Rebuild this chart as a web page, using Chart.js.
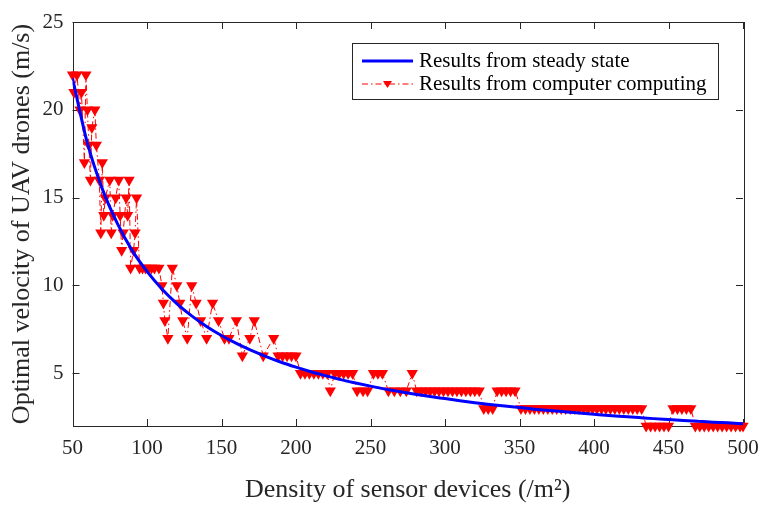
<!DOCTYPE html>
<html>
<head>
<meta charset="utf-8">
<script src="https://cdn.jsdelivr.net/npm/chart.js@4.4.1/dist/chart.umd.min.js"></script>
<style>
  body { margin: 0; background: #fff; }
  canvas { display: block; }
</style>
</head>
<body>
<canvas id="myChart" width="769" height="509"></canvas>
<script>
// steady state curve
const steadyDensity = [50, 60, 70, 80, 90, 100, 110, 120, 130, 140, 150, 160, 170, 180, 190,
  200, 210, 220, 230, 240, 250, 260, 270, 280, 290, 300, 310, 320, 330, 340, 350,
  360, 370, 380, 390, 400, 410, 420, 430, 440, 450, 460, 470, 480, 490, 500];
const steadyVelocity = [21.8, 18.1, 15.5, 13.55, 12.0, 10.8, 9.8, 8.97, 8.27, 7.67, 7.15, 6.7, 6.3, 5.95, 5.63,
  5.35, 5.09, 4.86, 4.64, 4.45, 4.27, 4.1, 3.95, 3.81, 3.68, 3.56, 3.44, 3.33, 3.23, 3.14, 3.05,
  2.96, 2.88, 2.81, 2.74, 2.67, 2.6, 2.54, 2.48, 2.42, 2.37, 2.32, 2.27, 2.22, 2.18, 2.13];

// computer computing results
const computeDensity = [
  50, 51, 53, 55, 56, 58, 59, 60, 61, 62,
  63, 65, 66, 68, 69, 70, 71, 72, 75, 76,
  77, 79, 81, 82, 83, 84, 86, 87, 88, 89,
  91, 92, 93, 95, 97, 99, 101, 103, 105, 108,
  110, 111, 112, 114, 117, 120, 122, 124, 127, 130,
  133, 136, 140, 144, 148, 152, 155, 160, 164, 169,
  172, 178, 185, 188, 191, 194, 197, 200, 203, 206,
  209, 212, 215, 218, 221, 223, 226, 229, 232, 235,
  238, 241, 245, 248, 252, 255, 258, 262, 266, 270,
  274, 278, 281, 284, 287, 290, 293, 296, 299, 302,
  305, 308, 311, 314, 317, 320, 323, 326, 329, 332,
  335, 338, 341, 344, 347, 351, 354, 357, 360, 363,
  366, 369, 372, 375, 378, 381, 384, 387, 390, 393,
  396, 399, 402, 405, 408, 411, 414, 417, 420, 423,
  426, 429, 432, 435, 438, 441, 444, 447, 450, 453,
  456, 459, 462, 465, 468, 471, 474, 477, 480, 483,
  486, 489, 492, 495, 498, 500
];
const computeVelocity = [
  22, 21, 22, 20, 21, 17, 22, 20, 18, 16,
  19, 20, 18, 16, 13, 17, 14, 15, 16, 13,
  14, 15, 16, 14, 12, 13, 15, 14, 16, 11,
  12, 13, 15, 11, 11, 11, 11, 11, 11, 11,
  10, 9, 8, 7, 11, 10, 9, 8, 7, 10,
  9, 8, 7, 9, 8, 7, 7, 8, 6, 7,
  8, 6, 7, 6, 6, 6, 6, 6, 5, 5,
  5, 5, 5, 5, 5, 4, 5, 5, 5, 5,
  5, 4, 4, 4, 5, 5, 5, 4, 4, 4,
  4, 5, 4, 4, 4, 4, 4, 4, 4, 4,
  4, 4, 4, 4, 4, 4, 4, 3, 3, 3,
  4, 4, 4, 4, 4, 3, 3, 3, 3, 3,
  3, 3, 3, 3, 3, 3, 3, 3, 3, 3,
  3, 3, 3, 3, 3, 3, 3, 3, 3, 3,
  3, 3, 3, 2, 2, 2, 2, 2, 2, 3,
  3, 3, 3, 3, 2, 2, 2, 2, 2, 2,
  2, 2, 2, 2, 2, 2
];

const yTicks = [5, 10, 15, 20, 25];
const seriesNames = ['Results from steady state', 'Results from computer computing'];

const serif = '"Liberation Serif", "Times New Roman", serif';
const axisColor = '#262626';

// matlab style box with inward ticks
const frame = {
  id: 'frame',
  beforeDatasetsDraw(chart) {
    const { ctx, chartArea: a, scales } = chart;
    ctx.save();
    ctx.strokeStyle = axisColor;
    ctx.lineWidth = 1;
    ctx.strokeRect(Math.round(a.left) + 0.5, Math.round(a.top) + 0.5,
      Math.round(a.right - a.left), Math.round(a.bottom - a.top));
    ctx.beginPath();
    scales.x.ticks.forEach(t => {
      const px = Math.round(scales.x.getPixelForValue(t.value)) + 0.5;
      ctx.moveTo(px, a.bottom); ctx.lineTo(px, a.bottom - 7);
      ctx.moveTo(px, a.top); ctx.lineTo(px, a.top + 7);
    });
    scales.y.ticks.forEach(t => {
      const py = Math.round(scales.y.getPixelForValue(t.value)) + 0.5;
      ctx.moveTo(a.left, py); ctx.lineTo(a.left + 7, py);
      ctx.moveTo(a.right, py); ctx.lineTo(a.right - 7, py);
    });
    ctx.stroke();
    ctx.restore();
  }
};

const legendBox = {
  id: 'legendBox',
  afterDraw(chart) {
    const ctx = chart.ctx;
    const x0 = 352, y0 = 43, w = 366, h = 56;
    ctx.save();
    ctx.fillStyle = '#fff';
    ctx.fillRect(x0, y0, w, h);
    ctx.strokeStyle = axisColor;
    ctx.lineWidth = 1;
    ctx.strokeRect(x0 + 0.5, y0 + 0.5, w, h);

    // steady state entry
    ctx.strokeStyle = '#0000ff';
    ctx.lineWidth = 3;
    ctx.beginPath();
    ctx.moveTo(362, 61); ctx.lineTo(413, 61);
    ctx.stroke();

    // computing entry
    ctx.strokeStyle = '#ff0000';
    ctx.lineWidth = 1;
    ctx.setLineDash([6, 3, 1.5, 3]);
    ctx.beginPath();
    ctx.moveTo(362, 84); ctx.lineTo(413, 84);
    ctx.stroke();
    ctx.setLineDash([]);
    ctx.fillStyle = '#ff0000';
    ctx.beginPath();
    ctx.moveTo(383, 81); ctx.lineTo(392, 81); ctx.lineTo(387.5, 88);
    ctx.closePath();
    ctx.fill();

    ctx.fillStyle = '#000';
    ctx.font = '21px ' + serif;
    ctx.textBaseline = 'middle';
    ctx.fillText(seriesNames[0], 419, 61);
    ctx.fillText(seriesNames[1], 419, 84);
    ctx.restore();
  }
};

const ctx = document.getElementById('myChart').getContext('2d');
const myChart = new Chart(ctx, {
  type: 'line',
  data: {
    datasets: [
      {
        label: seriesNames[0],
        data: steadyDensity.map((x, i) => ({ x: x, y: steadyVelocity[i] })),
        borderColor: '#0000ff',
        borderWidth: 3,
        pointRadius: 0,
        cubicInterpolationMode: 'monotone',
      },
      {
        label: seriesNames[1],
        data: computeDensity.map((x, i) => ({ x: x, y: computeVelocity[i] })),
        borderColor: '#ff0000',
        backgroundColor: '#ff0000',
        borderWidth: 1,
        borderDash: [6, 3, 1.5, 3],
        pointStyle: 'triangle',
        rotation: 180,
        pointRadius: 6.5,
        pointBorderWidth: 0,
        clip: false,
      },
    ],
  },
  options: {
    responsive: false,
    animation: false,
    devicePixelRatio: 1,
    layout: {
      padding: { left: 0, right: 26, top: 22, bottom: 0 },
    },
    plugins: {
      legend: { display: false },
      tooltip: { enabled: false },
    },
    scales: {
      x: {
        type: 'linear',
        min: 50,
        max: 500,
        grid: { display: false, drawTicks: false },
        border: { display: false },
        ticks: {
          stepSize: 50,
          padding: 10,
          color: axisColor,
          font: { family: serif, size: 21 },
        },
        title: {
          display: true,
          text: 'Density of sensor devices (/m²)',
          color: axisColor,
          font: { family: serif, size: 26 },
          padding: { top: 0, bottom: 3 },
        },
        afterFit: (s) => { s.height = 83; },
      },
      y: {
        min: 2,
        max: 25,
        grid: { display: false, drawTicks: false },
        border: { display: false },
        afterBuildTicks: (s) => { s.ticks = yTicks.map(v => ({ value: v })); },
        ticks: {
          padding: 9,
          color: axisColor,
          font: { family: serif, size: 21 },
        },
        title: {
          display: true,
          text: 'Optimal velocity of UAV drones (m/s)',
          color: axisColor,
          font: { family: serif, size: 26 },
          padding: { top: 7, bottom: 0 },
        },
        afterFit: (s) => { s.width = 72.5; },
      },
    },
  },
  plugins: [frame, legendBox],
});
</script>
</body>
</html>
